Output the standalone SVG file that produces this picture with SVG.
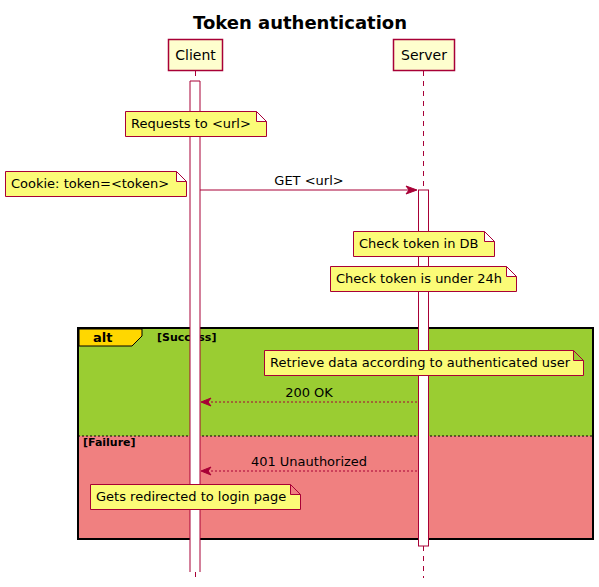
<svg xmlns="http://www.w3.org/2000/svg" width="599" height="587" viewBox="0 0 599 587">
<style>
text{font-family:"DejaVu Sans","Liberation Sans",sans-serif;fill:#000}
.part rect{fill:#FEFECE;stroke:#A80036;stroke-width:1.5}
.part text{font-size:14px;text-anchor:middle}
.note path{fill:#FBFB77;stroke:#A80036;stroke-width:1}
.note text{font-size:13px}
.life{stroke:#A80036;stroke-width:1;stroke-dasharray:5,5;fill:none}
.act{fill:#FFFFFF;stroke:#A80036;stroke-width:1}
.msg{stroke:#A80036;stroke-width:1;fill:none}
.ret{stroke:#A80036;stroke-width:1;fill:none;stroke-dasharray:2,2}
.head{fill:#A80036;stroke:#A80036;stroke-width:1}
.lbl{font-size:13px;text-anchor:middle}
.guard{font-size:11px;font-weight:bold}
</style>
<rect width="599" height="587" fill="#FFFFFF"/>
<text x="300" y="29" font-size="18" font-weight="bold" text-anchor="middle">Token authentication</text>

<g id="alt-frame">
<rect x="78" y="328" width="515" height="108" fill="#9ACD32"/>
<rect x="78" y="436" width="515" height="103" fill="#F08080"/>
<line x1="78" y1="436" x2="593" y2="436" stroke="#000" stroke-width="1" stroke-dasharray="2,2"/>
<rect x="78" y="328" width="515" height="211" fill="none" stroke="#000" stroke-width="2"/>
<path d="M79,329 H142 V336 L132,346 H79 Z" fill="#FFD700" stroke="#000" stroke-width="1"/>
<text x="93" y="342" font-size="13" font-weight="bold">alt</text>
<text class="guard" x="157" y="341">[Success]</text>
<text class="guard" x="83" y="446">[Failure]</text>
</g>

<g id="lifelines">
<line class="life" x1="195.5" y1="71" x2="195.5" y2="81"/>
<line class="life" x1="195.5" y1="572" x2="195.5" y2="578"/>
<line class="life" x1="423.5" y1="71" x2="423.5" y2="190"/>
<line class="life" x1="423.5" y1="546" x2="423.5" y2="578"/>
</g>

<g id="client-activation">
<rect x="190" y="81" width="10" height="491" fill="#FFFFFF" stroke="none"/>
<path d="M190,572 V81 H200 V572" class="act"/>
</g>
<g id="server-activation">
<rect class="act" x="418.5" y="190" width="10" height="356"/>
</g>

<g id="Client" class="part">
<rect x="168.5" y="39.5" width="54" height="31"/>
<text x="195.5" y="60">Client</text>
</g>
<g id="Server" class="part">
<rect x="393.5" y="39.5" width="61" height="31"/>
<text x="424" y="60">Server</text>
</g>

<g id="connectors">
<g id="msg-get">
<line class="msg" x1="200" y1="190" x2="416" y2="190"/>
<path class="head" d="M406,186 L417,190 L406,194 L409,190 Z"/>
<text class="lbl" x="309" y="185">GET &lt;url&gt;</text>
</g>
<g id="msg-200">
<line class="ret" x1="203" y1="402" x2="418" y2="402"/>
<path class="head" d="M211,398 L201,402 L211,406 L208,402 Z"/>
<text class="lbl" x="309" y="397">200 OK</text>
</g>
<g id="msg-401">
<line class="ret" x1="203" y1="471" x2="418" y2="471"/>
<path class="head" d="M211,467 L201,471 L211,475 L208,471 Z"/>
<text class="lbl" x="309" y="466">401 Unauthorized</text>
</g>
</g>

<g id="note-requests" class="note">
<path d="M125.5,111.5 H256.5 L266.5,121.5 V136.5 H125.5 Z M256.5,111.5 V121.5 H266.5"/>
<text x="131" y="128">Requests to &lt;url&gt;</text>
</g>
<g id="note-cookie" class="note">
<path d="M5.5,171.5 H176.5 L186.5,181.5 V196.5 H5.5 Z M176.5,171.5 V181.5 H186.5"/>
<text x="11" y="188">Cookie: token=&lt;token&gt;</text>
</g>
<g id="note-db" class="note">
<path d="M353.5,231.5 H484.5 L494.5,241.5 V256.5 H353.5 Z M484.5,231.5 V241.5 H494.5"/>
<text x="359" y="248">Check token in DB</text>
</g>
<g id="note-24h" class="note">
<path d="M330.5,266.5 H506.5 L516.5,276.5 V291.5 H330.5 Z M506.5,266.5 V276.5 H516.5"/>
<text x="336" y="283">Check token is under 24h</text>
</g>
<g id="note-retrieve" class="note">
<path d="M264.5,350.5 H573.5 L583.5,360.5 V375.5 H264.5 Z M573.5,350.5 V360.5 H583.5"/>
<text x="270" y="367">Retrieve data according to authenticated user</text>
</g>
<g id="note-redirect" class="note">
<path d="M90.5,484.5 H290.5 L300.5,494.5 V509.5 H90.5 Z M290.5,484.5 V494.5 H300.5"/>
<text x="96" y="501">Gets redirected to login page</text>
</g>
</svg>
